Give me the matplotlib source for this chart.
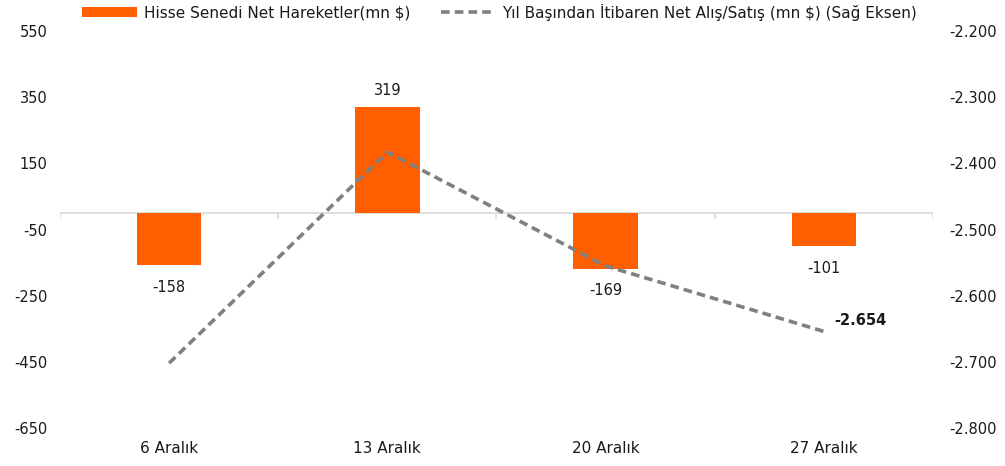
import numpy as np
import matplotlib.pyplot as plt
from matplotlib.ticker import FuncFormatter

# data
dates = ['6 Aralık', '13 Aralık', '20 Aralık', '27 Aralık']
net_flows = [-158, 319, -169, -101]          # mn $, left axis
ytd_net = [-2702, -2383, -2555, -2654]       # mn $, right axis
left_ticks = [550, 350, 150, -50, -250, -450, -650]
right_ticks = [-2200, -2300, -2400, -2500, -2600, -2700, -2800]

orange = '#ff5f00'
grey = '#808080'
txt = '#1a1a1a'

plt.rcParams['font.family'] = ['DejaVu Sans']
plt.rcParams['axes.unicode_minus'] = False


def tr_fmt(v, pos=None):
    s = f'{abs(int(round(v))):,}'.replace(',', '.')
    return '-' + s if v < 0 else s


fig = plt.figure(figsize=(10.05, 4.66), dpi=100)
ax = fig.add_axes([0.0597, 0.0815, 0.8686, 0.852])
ax2 = ax.twinx()

x = np.arange(len(dates))
ax.bar(x, net_flows, width=0.295, color=orange, zorder=2,
       label='Hisse Senedi Net Hareketler(mn $)')
ax.axhline(0, color='#d9d9d9', lw=1.2, zorder=1)
ax.vlines(np.arange(len(dates) + 1) - 0.5, -18, 0, color='#d9d9d9', lw=1.2, zorder=1)

for xi, v in zip(x, net_flows):
    off = 52 if v > 0 else -66
    ax.text(xi, v + off, f'{v}', ha='center', va='center', color=txt, fontsize=10.5)

ax2.plot(x, ytd_net, color=grey, lw=2.6, ls=(0, (2.4, 1.4)),
         label='Yıl Başından İtibaren Net Alış/Satış (mn $) (Sağ Eksen)')
ax2.text(x[-1] + 0.05, ytd_net[-1] + 17, tr_fmt(ytd_net[-1]),
         ha='left', va='center', fontweight='bold', fontsize=10.5, color=txt)

ax.set_xlim(-0.5, 3.5)
ax.set_ylim(-650, 550)
ax.set_yticks(left_ticks)
ax2.set_ylim(-2800, -2200)
ax2.set_yticks(right_ticks)
ax2.yaxis.set_major_formatter(FuncFormatter(tr_fmt))

ax.set_xticks(x)
ax.set_xticklabels(dates)
ax.tick_params(axis='x', length=0, pad=9, colors=txt, labelsize=11)
ax.tick_params(axis='y', length=0, pad=9, colors=txt, labelsize=10.5)
ax2.tick_params(axis='y', length=0, pad=12, colors=txt, labelsize=10.5)

for a in (ax, ax2):
    for s in a.spines.values():
        s.set_visible(False)

h1, l1 = ax.get_legend_handles_labels()
h2, l2 = ax2.get_legend_handles_labels()
fig.legend(h1 + h2, l1 + l2, loc='upper center', bbox_to_anchor=(0.497, 1.022), ncol=2,
           frameon=False, handlelength=3.6, handleheight=0.6, handletextpad=0.45,
           columnspacing=2.0, fontsize=11, labelcolor=txt)

fig.savefig('out.png', dpi=100)
